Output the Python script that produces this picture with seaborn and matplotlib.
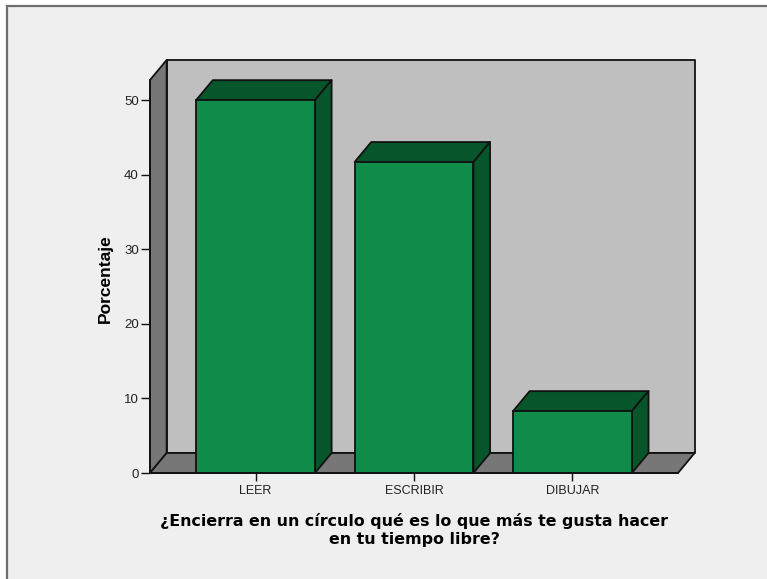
import matplotlib
matplotlib.use("Agg")
import matplotlib.pyplot as plt
import pandas as pd
import seaborn as sns
from matplotlib.patches import Polygon, Rectangle

# values
actividades = ["LEER", "ESCRIBIR", "DIBUJAR"]
porcentajes = [50.0, 41.7, 8.3]
marcas_y = [0, 10, 20, 30, 40, 50]

VERDE = "#0f8c4a"
VERDE_OSCURO = "#07552a"
GRIS_PARED = "#bfbfbf"
GRIS_SUELO = "#777777"
FONDO = "#efefef"
BORDE = "#111111"

W, H = 767, 579
# box depth in data units
DX = 0.105
DY = 2.68
YTOP = 52.7

sns.set_theme(style="white")
plt.rcParams["font.family"] = ["Liberation Sans", "DejaVu Sans"]

fig = plt.figure(figsize=(W / 100, H / 100), dpi=100, facecolor="white")
fig.add_artist(Rectangle((7 / W, -0.02), 1.02, 1 - 6 / H + 0.02, transform=fig.transFigure,
                         facecolor=FONDO, edgecolor="#6e6e6e", linewidth=1.6, zorder=-5))

ax = fig.add_axes([150 / W, (H - 473) / H, (678 - 150) / W, (473 - 80) / H])
ax.patch.set_alpha(0)

datos = pd.DataFrame({"actividad": actividades, "porcentaje": porcentajes})
sns.barplot(data=datos, x="actividad", y="porcentaje", color=VERDE, saturation=1, width=0.75,
            edgecolor=BORDE, linewidth=1.3, ax=ax, zorder=5)

x0, x1 = -0.666, 2.666
ax.set_xlim(x0, x1)
ax.set_ylim(0, YTOP)


def cara(puntos, color, z):
    ax.add_patch(Polygon(puntos, closed=True, facecolor=color, edgecolor=BORDE, linewidth=1.3,
                         clip_on=False, zorder=z, joinstyle="round"))


# back wall, side wall and floor
cara([(x0 + DX, DY), (x1 + DX, DY), (x1 + DX, YTOP + DY), (x0 + DX, YTOP + DY)], GRIS_PARED, 1)
cara([(x0, 0), (x0 + DX, DY), (x0 + DX, YTOP + DY), (x0, YTOP)], GRIS_SUELO, 2)
cara([(x0, 0), (x1, 0), (x1 + DX, DY), (x0 + DX, DY)], GRIS_SUELO, 2)

# top and side of each bar, taken from the bars seaborn drew
for barra in ax.patches[:len(actividades)]:
    izq, der = barra.get_x(), barra.get_x() + barra.get_width()
    alto = barra.get_height()
    cara([(izq, alto), (der, alto), (der + DX, alto + DY), (izq + DX, alto + DY)], VERDE_OSCURO, 4)
    cara([(der, 0), (der + DX, DY), (der + DX, alto + DY), (der, alto)], VERDE_OSCURO, 4)

sns.despine(ax=ax, top=True, right=True)
for lado in ["left", "bottom"]:
    ax.spines[lado].set_color(BORDE)
    ax.spines[lado].set_linewidth(1.3)
    ax.spines[lado].set_zorder(6)

ax.set_yticks(marcas_y)
ax.tick_params(axis="y", direction="out", length=6.5, width=1, color=BORDE, pad=1.5,
               labelsize=9.5, labelcolor="#222222", left=True)
ax.tick_params(axis="x", direction="out", length=6, width=1, color=BORDE, pad=3,
               labelsize=9, labelcolor="#222222", bottom=True)

ax.set_ylabel("Porcentaje", fontsize=12.5, fontweight="bold", color="black", labelpad=8, y=0.495)
ax.set_xlabel("¿Encierra en un círculo qué es lo que más te gusta hacer\nen tu tiempo libre?",
              fontsize=11.4, fontweight="bold", color="black", family="DejaVu Sans",
              labelpad=11, linespacing=1.3, x=0.5)

fig.savefig("out.png", dpi=100, facecolor=fig.get_facecolor())
